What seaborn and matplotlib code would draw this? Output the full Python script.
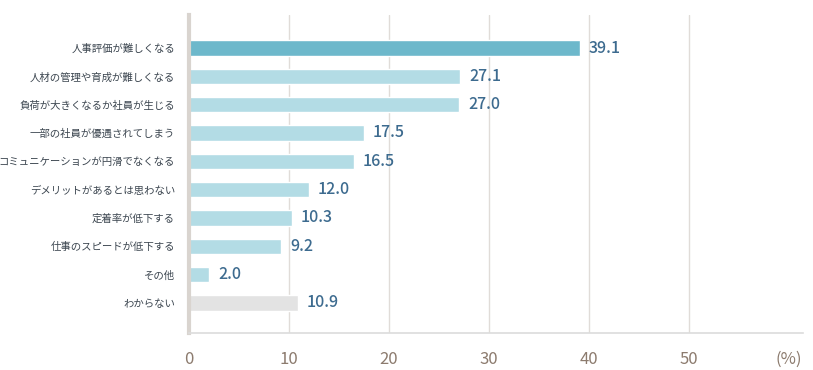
import matplotlib
matplotlib.use("Agg")
import matplotlib.pyplot as plt
import seaborn as sns
import pandas as pd

# データ
categories = [
    "人事評価が難しくなる",
    "人材の管理や育成が難しくなる",
    "負荷が大きくなるか社員が生じる",
    "一部の社員が優遇されてしまう",
    "コミュニケーションが円滑でなくなる",
    "デメリットがあるとは思わない",
    "定着率が低下する",
    "仕事のスピードが低下する",
    "その他",
    "わからない",
]
values = [39.1, 27.1, 27.0, 17.5, 16.5, 12.0, 10.3, 9.2, 2.0, 10.9]
bar_colors = ["#6db8cb"] + ["#b3dce5"] * 8 + ["#e3e3e3"]
x_ticks = [0, 10, 20, 30, 40, 50]

df = pd.DataFrame({"項目": categories, "割合": values})

sns.set_style("white")
plt.rcParams["font.family"] = ["Noto Sans CJK JP", "DejaVu Sans"]

fig = plt.figure(figsize=(8.13, 3.70), dpi=100)
ax = fig.add_axes([189 / 813, 37 / 370, 614 / 813, 318 / 370])

sns.barplot(data=df, x="割合", y="項目", hue="項目", palette=bar_colors,
            legend=False, width=0.55, ax=ax, orient="h", saturation=1)

ax.set_xlim(0, 61.4)
ax.set_ylim(len(categories) - 1 + 1.06, -1.165)

# グリッド線
for t in x_ticks[1:]:
    ax.axvline(t, color="#e0dcd8", lw=1, zorder=0)

# 数値ラベル
for i, v in enumerate(values):
    ax.text(v + 0.9, i, f"{v:.1f}", va="center", ha="left",
            fontsize=11.5, color="#3d6b8f", fontweight="medium")

ax.set_xticks(x_ticks + [60])
ax.set_xticklabels([str(t) for t in x_ticks] + ["(%)"])
ax.tick_params(axis="x", length=0, pad=13, labelsize=12, labelcolor="#8c7b6e")
ax.tick_params(axis="y", length=0, pad=10, labelsize=7.5, labelcolor="#3c4650")
ax.set_xlabel("")
ax.set_ylabel("")

for s in ["top", "right"]:
    ax.spines[s].set_visible(False)
ax.spines["left"].set_color("#d9d4cf")
ax.spines["left"].set_linewidth(3)
ax.spines["bottom"].set_color("#dcdcdc")
ax.spines["bottom"].set_linewidth(1.2)

fig.savefig("out.png", dpi=100)
